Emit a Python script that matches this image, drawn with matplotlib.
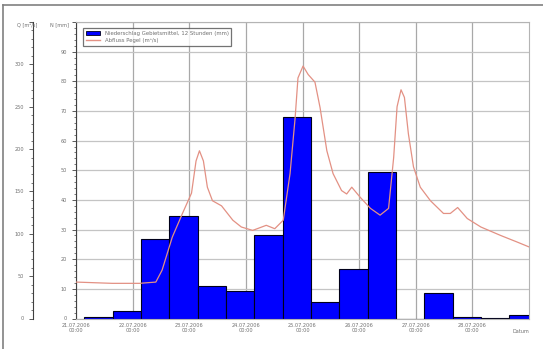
import numpy as np
import matplotlib.pyplot as plt
from matplotlib.ticker import AutoMinorLocator
from matplotlib.lines import Line2D

# Rainfall, 12-hour totals (mm), bars start 0.15 d after each half day
rain_start = np.arange(16) * 0.5 + 0.15
rain = [0.6, 2.5, 26.8, 34.5, 11.1, 9.4, 28.3, 67.9,
        5.7, 16.7, 49.4, 0.0, 8.5, 0.6, 0.1, 1.2]

# Discharge (m3/s), time in days since first tick
q_day = [0.0, 0.64, 1.12, 1.41, 1.52, 1.70, 1.88, 2.04, 2.12, 2.18, 2.25,
         2.32, 2.41, 2.57, 2.77, 2.92, 3.12, 3.36, 3.51, 3.66, 3.78, 3.87,
         3.92, 4.01, 4.10, 4.22, 4.31, 4.43, 4.54, 4.69, 4.78, 4.87, 5.02,
         5.20, 5.37, 5.52, 5.61, 5.67, 5.74, 5.80, 5.87, 5.96, 6.08, 6.26,
         6.49, 6.61, 6.74, 6.91, 7.15, 7.50, 7.80, 8.0]
q_val = [43, 41.5, 41.5, 43, 57, 96, 124, 148, 186, 198, 186,
         155, 139, 133, 116, 108, 104, 110, 106, 116, 171, 237,
         284, 298, 288, 279, 249, 198, 171, 151, 147, 155, 143,
         130, 122, 130, 190, 250, 270, 261, 218, 179, 155, 139,
         124, 124, 131, 118, 108, 98, 90, 84.5]

date_labels = ['21.07.2006\n00:00', '22.07.2006\n00:00', '23.07.2006\n00:00',
               '24.07.2006\n00:00', '25.07.2006\n00:00', '26.07.2006\n00:00',
               '27.07.2006\n00:00', '28.07.2006\n00:00']

grey = '#707070'
red = '#e39184'
fig = plt.figure(figsize=(5.43, 3.49), dpi=100)
ax = fig.add_axes([76/543, 30.5/349, 453/543, 296.5/349])

ax.bar(rain_start, rain, width=0.5, align='edge', color='#0000ff',
       edgecolor='#00001a', linewidth=0.8, zorder=2)
ax.set_xlim(0, 8)
ax.set_ylim(0, 100)
ax.set_yticks(np.arange(0, 101, 10))
ax.set_yticklabels([str(v) for v in range(0, 100, 10)] + [''])
ax.yaxis.set_minor_locator(AutoMinorLocator(5))
ax.set_xticks(range(8))
ax.set_xticklabels(date_labels)
ax.grid(True, axis='y', color='#c4c4c4', linewidth=0.9)
ax.grid(True, axis='x', color='#a8a8a8', linewidth=0.9)
ax.set_axisbelow(True)
ax.tick_params(axis='both', labelsize=3.6, labelcolor=grey, color='#404040',
               length=3, width=0.6)
ax.tick_params(axis='y', which='minor', length=1.5, width=0.5, color='#404040')
ax.tick_params(axis='x', length=0, pad=3)
for s in ['top', 'right', 'bottom']:
    ax.spines[s].set_color('#b4b4b4')
ax.spines['left'].set_color('#404040')
ax.text(8, -0.035, 'Datum', transform=ax.get_xaxis_transform(), ha='right',
        va='top', fontsize=3.6, color=grey)

ax2 = ax.twinx()
ax2.plot(q_day, q_val, color=red, linewidth=0.9, zorder=3)
ax2.set_ylim(0, 350)
ax2.set_yticks(np.arange(0, 351, 50))
ax2.set_yticklabels([str(v) for v in range(0, 350, 50)] + [''])
ax2.yaxis.set_minor_locator(AutoMinorLocator(5))
ax2.yaxis.set_ticks_position('left')
ax2.yaxis.set_label_position('left')
ax2.spines['left'].set_position(('outward', 31))
ax2.spines['left'].set_color('#404040')
for s in ['top', 'right', 'bottom']:
    ax2.spines[s].set_visible(False)
ax2.tick_params(axis='y', labelsize=3.6, labelcolor=grey, color='#404040',
                length=3, width=0.6)
ax2.tick_params(axis='y', which='minor', length=1.5, width=0.5, color='#404040')

# axis titles above the two y axes
fig.text(27/543, 1 - 25/349, 'Q [m³/s]', ha='center', va='center',
         fontsize=3.6, color=grey)
fig.text(59/543, 1 - 25/349, 'N [mm]', ha='center', va='center',
         fontsize=3.6, color=grey)

handles = [plt.Rectangle((0, 0), 1, 1, fc='#0000ff', ec='#00001a', lw=0.6),
           Line2D([0], [0], color=red, lw=1.0)]
leg = ax2.legend(handles, ['Niederschlag Gebietsmittel, 12 Stunden (mm)',
                           'Abfluss Pegel (m³/s)'],
                 loc='upper left', bbox_to_anchor=(7/453, 1 - 6/296.5),
                 fontsize=3.9, frameon=True, fancybox=False,
                 borderpad=0.5, labelspacing=0.45, handlelength=2.6,
                 handletextpad=0.9, borderaxespad=0)
leg.get_frame().set_edgecolor('#505050')
leg.get_frame().set_linewidth(0.9)
for t in leg.get_texts():
    t.set_color(grey)

# outer frame of the picture (top and left edges only)
fig.add_artist(Line2D([3/543, 3/543], [0, 1 - 5/349], color='#808080', lw=1.2))
fig.add_artist(Line2D([3/543, 1], [1 - 5/349, 1 - 5/349], color='#808080', lw=1.2))

fig.savefig('out.png', dpi=100)
